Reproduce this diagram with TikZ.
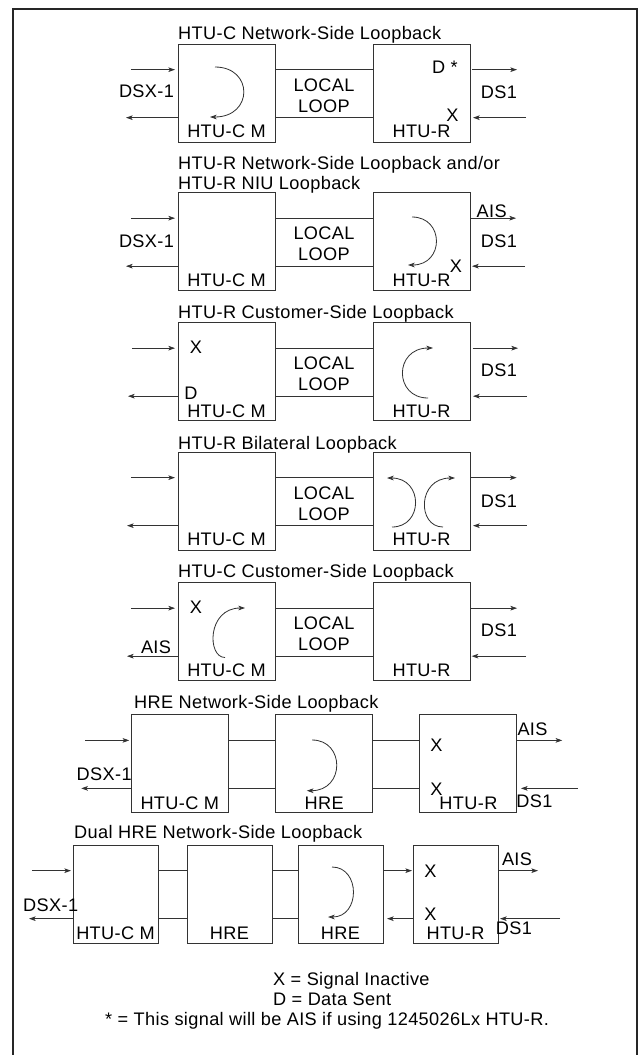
\documentclass[tikz,border=0pt]{standalone}
\usepackage{fontspec}
\setmainfont[LetterSpace=2]{Liberation Sans}
\usetikzlibrary{arrows.meta,positioning}

\begin{document}
\begin{tikzpicture}[
  x=0.03cm, y=-0.03cm,
  font=\fontsize{15.5}{18}\selectfont,
  unit/.style={draw=black!80, line width=0.8pt, inner sep=0pt, outer sep=0pt, minimum width=2.91cm, minimum height=2.94cm},
  unitsev/.style={unit, minimum width=2.55cm, minimum height=2.94cm},
  txt/.style={inner sep=0pt, anchor=base},
  ttl/.style={inner sep=0pt, anchor=base west},
  wire/.style={draw=black!80, line width=0.8pt},
  sig/.style={draw=black!80, line width=0.7pt, -{Stealth[length=2mm,width=1.4mm,inset=0.5mm]}},
  hi/.style={yshift=0.7cm},
  lo/.style={yshift=-0.74cm}
]
\useasboundingbox (0,0) rectangle (638,1055);
\draw[black!85, line width=1.3pt] (13,9) rectangle (637,1070);

% HTU-C network-side loopback
\node[ttl] (t1) at (178,39.5) {HTU-C Network-Side Loopback};
\node[unit] (cm1) at (226.5,93) {};
\node[unit, right=2.94cm of cm1] (r1) {};
\node[txt] (n1a) at ([yshift=0.13cm]cm1.south) {HTU-C M};
\node[txt] (n1b) at ([yshift=0.13cm]r1.south) {HTU-R};
\draw[wire] ([hi]cm1.east) -- ([hi]r1.west);
\draw[wire] ([lo]cm1.east) -- ([lo]r1.west);
\path (cm1) -- node[align=center, inner sep=0pt, yshift=-0.08cm] (ll1) {LOCAL\\LOOP} (r1);
\draw[sig] ([hi,xshift=-1.41cm]cm1.west) -- ([hi,xshift=-0.09cm]cm1.west);
\draw[sig] ([lo]cm1.west) -- ([lo,xshift=-1.56cm]cm1.west);
\draw[sig] ([hi,xshift=0.06cm]r1.east) -- ([hi,xshift=1.41cm]r1.east);
\draw[sig] ([lo,xshift=1.68cm]r1.east) -- ([lo,xshift=0.09cm]r1.east);
\node[txt] (dsx1) at (146.5,97) {DSX-1};
\node[txt] (ds1) at (499,98.5) {DS1};
\node[txt] (d1) at (445,73.5) {D *};
\node[txt] (x1) at (452.5,121) {X};
\draw[sig, shift={(cm1.center)}] (-11.5,-26) .. controls (27,-26) and (27,24) .. (-16.5,24);

% HTU-R network-side / NIU loopback
\node[ttl] (t2a) at (178,169) {HTU-R Network-Side Loopback and/or};
\node[ttl] (t2b) at (178,189) {HTU-R NIU Loopback};
\node[unit] (cm2) at (226.5,241.5) {};
\node[unit, right=2.94cm of cm2] (r2) {};
\node[txt] (n2a) at ([yshift=0.13cm]cm2.south) {HTU-C M};
\node[txt] (n2b) at ([yshift=0.13cm]r2.south) {HTU-R};
\draw[wire] ([hi]cm2.east) -- ([hi]r2.west);
\draw[wire] ([lo]cm2.east) -- ([lo]r2.west);
\path (cm2) -- node[align=center, inner sep=0pt, yshift=-0.08cm] (ll2) {LOCAL\\LOOP} (r2);
\draw[sig] ([hi,xshift=-1.41cm]cm2.west) -- ([hi,xshift=-0.09cm]cm2.west);
\draw[sig] ([lo]cm2.west) -- ([lo,xshift=-1.56cm]cm2.west);
\draw[sig] ([hi]r2.east) -- ([hi,xshift=1.38cm]r2.east);
\draw[sig] ([lo,xshift=1.65cm]r2.east) -- ([lo,xshift=0.06cm]r2.east);
\node[txt] (dsx2) at (146.5,247) {DSX-1};
\node[txt] (ds2) at (499,247) {DS1};
\node[txt] (ais2) at (491.7,217.5) {AIS};
\node[txt] (x2) at (456,272) {X};
\draw[sig, shift={(r2.center)}] (-9.5,-24.5) .. controls (23,-24.5) and (23,23.5) .. (-13.5,23.5);

% HTU-R customer-side loopback
\node[ttl] (t3) at (178,318.5) {HTU-R Customer-Side Loopback};
\node[unit] (cm3) at (226.5,371.5) {};
\node[unit, right=2.94cm of cm3] (r3) {};
\node[txt] (n3a) at ([yshift=0.09cm]cm3.south) {HTU-C M};
\node[txt] (n3b) at ([yshift=0.09cm]r3.south) {HTU-R};
\draw[wire] ([hi]cm3.east) -- ([hi]r3.west);
\draw[wire] ([lo]cm3.east) -- ([lo]r3.west);
\path (cm3) -- node[align=center, inner sep=0pt, yshift=-0.08cm] (ll3) {LOCAL\\LOOP} (r3);
\draw[sig] ([hi,xshift=-1.38cm]cm3.west) -- ([hi,xshift=-0.09cm]cm3.west);
\draw[sig] ([lo]cm3.west) -- ([lo,xshift=-1.5cm]cm3.west);
\draw[sig] ([hi,xshift=0.08cm]r3.east) -- ([hi,xshift=1.44cm]r3.east);
\draw[sig] ([lo,xshift=1.71cm]r3.east) -- ([lo,xshift=0.09cm]r3.east);
\node[txt] (x3) at (196,353.5) {X};
\node[txt] (d3) at (191,399.5) {D};
\node[txt] (ds3) at (499,376) {DS1};
\draw[sig, shift={(r3.center)}] (6.5,26.5) .. controls (-27.7,26.5) and (-27.7,-23.5) .. (11.5,-23.5);

% HTU-R bilateral loopback
\node[ttl] (t4) at (178,449.5) {HTU-R Bilateral Loopback};
\node[unit] (cm4) at (226.5,501) {};
\node[unit, right=2.94cm of cm4] (r4) {};
\node[txt] (n4a) at ([yshift=0.13cm]cm4.south) {HTU-C M};
\node[txt] (n4b) at ([yshift=0.13cm]r4.south) {HTU-R};
\draw[wire] ([hi]cm4.east) -- ([hi]r4.west);
\draw[wire] ([lo]cm4.east) -- ([lo]r4.west);
\path (cm4) -- node[align=center, inner sep=0pt, yshift=-0.08cm] (ll4) {LOCAL\\LOOP} (r4);
\draw[sig] ([hi,xshift=-1.41cm]cm4.west) -- ([hi,xshift=-0.09cm]cm4.west);
\draw[sig] ([lo]cm4.west) -- ([lo,xshift=-1.53cm]cm4.west);
\draw[sig] ([hi,xshift=0.02cm]r4.east) -- ([hi,xshift=1.4cm]r4.east);
\draw[sig] ([lo,xshift=1.7cm]r4.east) -- ([lo,xshift=0.09cm]r4.east);
\node[txt] (ds4) at (499,507) {DS1};
\draw[sig, shift={(r4.center)}] (-29.5,26) .. controls (2,26) and (2,-23) .. (-34.5,-23);
\draw[sig, shift={(r4.center)}] (21.5,26) .. controls (-4.5,26) and (-4.5,-23) .. (33.5,-23);

% HTU-C customer-side loopback
\node[ttl] (t5) at (178,577.5) {HTU-C Customer-Side Loopback};
\node[unit] (cm5) at (226.5,631.5) {};
\node[unit, right=2.94cm of cm5] (r5) {};
\node[txt] (n5a) at ([yshift=0.12cm]cm5.south) {HTU-C M};
\node[txt] (n5b) at ([yshift=0.12cm]r5.south) {HTU-R};
\draw[wire] ([hi]cm5.east) -- ([hi]r5.west);
\draw[wire] ([lo]cm5.east) -- ([lo]r5.west);
\path (cm5) -- node[align=center, inner sep=0pt, yshift=-0.08cm] (ll5) {LOCAL\\LOOP} (r5);
\draw[sig] ([hi,xshift=-1.41cm]cm5.west) -- ([hi,xshift=-0.09cm]cm5.west);
\draw[sig] ([lo]cm5.west) -- ([lo,xshift=-1.53cm]cm5.west);
\draw[sig] ([hi,xshift=0.02cm]r5.east) -- ([hi,xshift=1.41cm]r5.east);
\draw[sig] ([lo,xshift=1.68cm]r5.east) -- ([lo,xshift=0.05cm]r5.east);
\node[txt] (x5) at (196,613.5) {X};
\node[txt] (ais5) at (156,653) {AIS};
\node[txt] (ds5) at (499,636) {DS1};
\draw[sig, shift={(cm5.center)}] (-1.5,26) .. controls (-19.5,26) and (-19.5,-23.5) .. (18.5,-23.5);

% HRE network-side loopback
\node[ttl] (t6) at (134,708) {HRE Network-Side Loopback};
\node[unit] (cm6) at (179.75,763.7) {};
\node[unit, right=1.42cm of cm6] (h6) {};
\node[unit, right=1.42cm of h6] (r6) {};
\node[txt] (n6a) at ([yshift=0.1cm]cm6.south) {HTU-C M};
\node[txt] (n6b) at ([yshift=0.1cm]h6.south) {HRE};
\node[txt] (n6c) at ([yshift=0.1cm]r6.south) {HTU-R};
\draw[wire] ([hi]cm6.east) -- ([hi]h6.west);
\draw[wire] ([lo]cm6.east) -- ([lo]h6.west);
\draw[wire] ([hi]h6.east) -- ([hi]r6.west);
\draw[wire] ([lo]h6.east) -- ([lo]r6.west);
\draw[sig] ([hi,xshift=-1.38cm]cm6.west) -- ([hi,xshift=-0.06cm]cm6.west);
\draw[sig] ([lo]cm6.west) -- ([lo,xshift=-1.5cm]cm6.west);
\draw[sig] ([hi]r6.east) -- ([hi,xshift=1.36cm]r6.east);
\draw[sig] ([lo,xshift=1.83cm]r6.east) -- ([lo,xshift=0.12cm]r6.east);
\node[ttl] (dsx6) at (76.5,780) {DSX-1};
\node[txt] (x6a) at (436.4,751) {X};
\node[txt] (x6b) at (436.4,795) {X};
\node[txt] (ais6) at (532.5,735) {AIS};
\node[txt] (ds6) at (534.5,807) {DS1};
\draw[sig, shift={(h6.center)}] (-12,-23.7) .. controls (21,-23.7) and (21,27) .. (-17.3,27);

% dual HRE network-side loopback
\node[ttl] (t7) at (74,838) {Dual HRE Network-Side Loopback};
\node[unitsev] (cm7) at (115.5,894) {};
\node[unitsev, right=0.87cm of cm7] (ha7) {};
\node[unitsev, right=0.78cm of ha7] (hb7) {};
\node[unitsev, right=0.9cm of hb7] (r7) {};
\node[txt] (n7a) at ([yshift=0.12cm]cm7.south) {HTU-C M};
\node[txt] (n7b) at ([yshift=0.12cm]ha7.south) {HRE};
\node[txt] (n7c) at ([yshift=0.12cm]hb7.south) {HRE};
\node[txt] (n7d) at ([yshift=0.12cm]r7.south) {HTU-R};
\draw[wire] ([hi]cm7.east) -- ([hi]ha7.west);
\draw[wire] ([lo]cm7.east) -- ([lo]ha7.west);
\draw[wire] ([hi]ha7.east) -- ([hi]hb7.west);
\draw[wire] ([lo]ha7.east) -- ([lo]hb7.west);
\draw[sig] ([hi]hb7.east) -- ([hi,xshift=-0.03cm]r7.west);
\draw[sig] ([lo]r7.west) -- ([lo,xshift=0.12cm]hb7.east);
\draw[sig] ([hi,xshift=-1.23cm]cm7.west) -- ([hi,xshift=-0.06cm]cm7.west);
\draw[sig] ([lo]cm7.west) -- ([lo,xshift=-1.32cm]cm7.west);
\draw[sig] ([hi]r7.east) -- ([hi,xshift=1.2cm]r7.east);
\draw[sig] ([lo,xshift=1.86cm]r7.east) -- ([lo,xshift=0.06cm]r7.east);
\node[ttl] (dsx7) at (23,911) {DSX-1};
\node[txt] (x7a) at (430.5,877) {X};
\node[txt] (x7b) at (430.5,920) {X};
\node[txt] (ais7) at (517,865) {AIS};
\node[txt] (ds7) at (514,934) {DS1};
\draw[sig, shift={(hb7.center)}] (-8.5,-27) .. controls (20,-27) and (20,23) .. (-12.5,23);

% key
\node[ttl] (k1) at (273,985) {X = Signal Inactive};
\node[ttl] (k2) at (273,1005) {D = Data Sent};
\node[ttl] (k3) at (105,1025) {* = This signal will be AIS if using 1245026Lx HTU-R.};
\end{tikzpicture}
\end{document}
